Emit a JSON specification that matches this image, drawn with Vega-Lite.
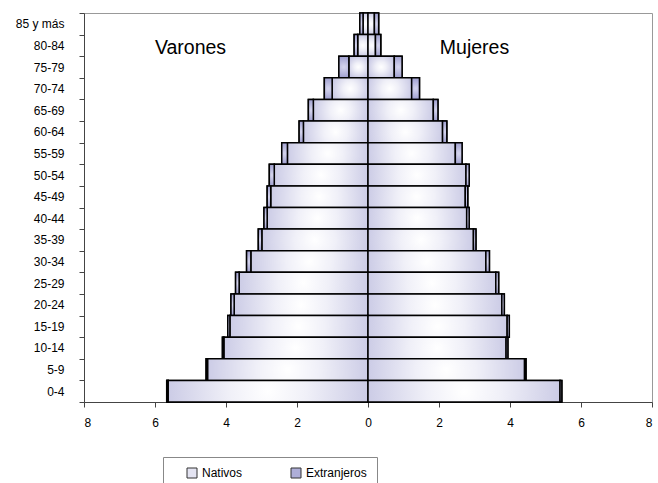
{
  "$schema": "https://vega.github.io/schema/vega-lite/v6.json",
  "autosize": "none",
  "width": 568,
  "height": 389,
  "padding": {"left": 84, "top": 13, "right": 6, "bottom": 81},
  "background": "white",
  "config": {
    "font": "Liberation Sans",
    "view": {"stroke": "#999999", "strokeWidth": 1},
    "axis": {"labelFont": "Liberation Sans", "labelFontSize": 12, "labelColor": "#000000", "domainColor": "#444444", "tickColor": "#444444", "grid": false, "title": null}
  },
  "datasets": {
    "piramide": [
      {"edad": "85 y más", "sexo": "Varones", "tipo": "Nativos", "valor": -0.14},
      {"edad": "85 y más", "sexo": "Varones", "tipo": "Extranjeros", "valor": -0.09},
      {"edad": "85 y más", "sexo": "Mujeres", "tipo": "Nativos", "valor": 0.18},
      {"edad": "85 y más", "sexo": "Mujeres", "tipo": "Extranjeros", "valor": 0.12},
      {"edad": "80-84", "sexo": "Varones", "tipo": "Nativos", "valor": -0.29},
      {"edad": "80-84", "sexo": "Varones", "tipo": "Extranjeros", "valor": -0.10},
      {"edad": "80-84", "sexo": "Mujeres", "tipo": "Nativos", "valor": 0.21},
      {"edad": "80-84", "sexo": "Mujeres", "tipo": "Extranjeros", "valor": 0.15},
      {"edad": "75-79", "sexo": "Varones", "tipo": "Nativos", "valor": -0.54},
      {"edad": "75-79", "sexo": "Varones", "tipo": "Extranjeros", "valor": -0.28},
      {"edad": "75-79", "sexo": "Mujeres", "tipo": "Nativos", "valor": 0.74},
      {"edad": "75-79", "sexo": "Mujeres", "tipo": "Extranjeros", "valor": 0.22},
      {"edad": "70-74", "sexo": "Varones", "tipo": "Nativos", "valor": -1.01},
      {"edad": "70-74", "sexo": "Varones", "tipo": "Extranjeros", "valor": -0.22},
      {"edad": "70-74", "sexo": "Mujeres", "tipo": "Nativos", "valor": 1.23},
      {"edad": "70-74", "sexo": "Mujeres", "tipo": "Extranjeros", "valor": 0.22},
      {"edad": "65-69", "sexo": "Varones", "tipo": "Nativos", "valor": -1.54},
      {"edad": "65-69", "sexo": "Varones", "tipo": "Extranjeros", "valor": -0.14},
      {"edad": "65-69", "sexo": "Mujeres", "tipo": "Nativos", "valor": 1.84},
      {"edad": "65-69", "sexo": "Mujeres", "tipo": "Extranjeros", "valor": 0.13},
      {"edad": "60-64", "sexo": "Varones", "tipo": "Nativos", "valor": -1.82},
      {"edad": "60-64", "sexo": "Varones", "tipo": "Extranjeros", "valor": -0.12},
      {"edad": "60-64", "sexo": "Mujeres", "tipo": "Nativos", "valor": 2.10},
      {"edad": "60-64", "sexo": "Mujeres", "tipo": "Extranjeros", "valor": 0.12},
      {"edad": "55-59", "sexo": "Varones", "tipo": "Nativos", "valor": -2.27},
      {"edad": "55-59", "sexo": "Varones", "tipo": "Extranjeros", "valor": -0.16},
      {"edad": "55-59", "sexo": "Mujeres", "tipo": "Nativos", "valor": 2.46},
      {"edad": "55-59", "sexo": "Mujeres", "tipo": "Extranjeros", "valor": 0.19},
      {"edad": "50-54", "sexo": "Varones", "tipo": "Nativos", "valor": -2.64},
      {"edad": "50-54", "sexo": "Varones", "tipo": "Extranjeros", "valor": -0.14},
      {"edad": "50-54", "sexo": "Mujeres", "tipo": "Nativos", "valor": 2.76},
      {"edad": "50-54", "sexo": "Mujeres", "tipo": "Extranjeros", "valor": 0.09},
      {"edad": "45-49", "sexo": "Varones", "tipo": "Nativos", "valor": -2.74},
      {"edad": "45-49", "sexo": "Varones", "tipo": "Extranjeros", "valor": -0.10},
      {"edad": "45-49", "sexo": "Mujeres", "tipo": "Nativos", "valor": 2.74},
      {"edad": "45-49", "sexo": "Mujeres", "tipo": "Extranjeros", "valor": 0.07},
      {"edad": "40-44", "sexo": "Varones", "tipo": "Nativos", "valor": -2.84},
      {"edad": "40-44", "sexo": "Varones", "tipo": "Extranjeros", "valor": -0.09},
      {"edad": "40-44", "sexo": "Mujeres", "tipo": "Nativos", "valor": 2.78},
      {"edad": "40-44", "sexo": "Mujeres", "tipo": "Extranjeros", "valor": 0.07},
      {"edad": "35-39", "sexo": "Varones", "tipo": "Nativos", "valor": -2.99},
      {"edad": "35-39", "sexo": "Varones", "tipo": "Extranjeros", "valor": -0.10},
      {"edad": "35-39", "sexo": "Mujeres", "tipo": "Nativos", "valor": 2.97},
      {"edad": "35-39", "sexo": "Mujeres", "tipo": "Extranjeros", "valor": 0.07},
      {"edad": "30-34", "sexo": "Varones", "tipo": "Nativos", "valor": -3.30},
      {"edad": "30-34", "sexo": "Varones", "tipo": "Extranjeros", "valor": -0.12},
      {"edad": "30-34", "sexo": "Mujeres", "tipo": "Nativos", "valor": 3.32},
      {"edad": "30-34", "sexo": "Mujeres", "tipo": "Extranjeros", "valor": 0.10},
      {"edad": "25-29", "sexo": "Varones", "tipo": "Nativos", "valor": -3.63},
      {"edad": "25-29", "sexo": "Varones", "tipo": "Extranjeros", "valor": -0.10},
      {"edad": "25-29", "sexo": "Mujeres", "tipo": "Nativos", "valor": 3.60},
      {"edad": "25-29", "sexo": "Mujeres", "tipo": "Extranjeros", "valor": 0.08},
      {"edad": "20-24", "sexo": "Varones", "tipo": "Nativos", "valor": -3.77},
      {"edad": "20-24", "sexo": "Varones", "tipo": "Extranjeros", "valor": -0.09},
      {"edad": "20-24", "sexo": "Mujeres", "tipo": "Nativos", "valor": 3.77},
      {"edad": "20-24", "sexo": "Mujeres", "tipo": "Extranjeros", "valor": 0.07},
      {"edad": "15-19", "sexo": "Varones", "tipo": "Nativos", "valor": -3.89},
      {"edad": "15-19", "sexo": "Varones", "tipo": "Extranjeros", "valor": -0.06},
      {"edad": "15-19", "sexo": "Mujeres", "tipo": "Nativos", "valor": 3.92},
      {"edad": "15-19", "sexo": "Mujeres", "tipo": "Extranjeros", "valor": 0.06},
      {"edad": "10-14", "sexo": "Varones", "tipo": "Nativos", "valor": -4.06},
      {"edad": "10-14", "sexo": "Varones", "tipo": "Extranjeros", "valor": -0.04},
      {"edad": "10-14", "sexo": "Mujeres", "tipo": "Nativos", "valor": 3.89},
      {"edad": "10-14", "sexo": "Mujeres", "tipo": "Extranjeros", "valor": 0.05},
      {"edad": "5-9", "sexo": "Varones", "tipo": "Nativos", "valor": -4.52},
      {"edad": "5-9", "sexo": "Varones", "tipo": "Extranjeros", "valor": -0.04},
      {"edad": "5-9", "sexo": "Mujeres", "tipo": "Nativos", "valor": 4.41},
      {"edad": "5-9", "sexo": "Mujeres", "tipo": "Extranjeros", "valor": 0.04},
      {"edad": "0-4", "sexo": "Varones", "tipo": "Nativos", "valor": -5.63},
      {"edad": "0-4", "sexo": "Varones", "tipo": "Extranjeros", "valor": -0.04},
      {"edad": "0-4", "sexo": "Mujeres", "tipo": "Nativos", "valor": 5.41},
      {"edad": "0-4", "sexo": "Mujeres", "tipo": "Extranjeros", "valor": 0.05}
    ],
    "rotulos": [
      {"texto": "Varones", "x": -5.0, "edad": "80-84"},
      {"texto": "Mujeres", "x": 3.0, "edad": "80-84"}
    ]
  },
  "layer": [
    {
      "data": {"name": "piramide"},
      "mark": {"type": "bar", "stroke": "#000000", "strokeWidth": 1.5},
      "encoding": {
        "y": {
          "field": "edad", "type": "nominal",
          "sort": ["85 y más", "80-84", "75-79", "70-74", "65-69", "60-64", "55-59", "50-54", "45-49", "40-44", "35-39", "30-34", "25-29", "20-24", "15-19", "10-14", "5-9", "0-4"],
          "scale": {"paddingInner": 0, "paddingOuter": 0},
          "axis": {"tickBand": "extent", "tickSize": 5, "labelPadding": 15, "domainColor": "#444444"}
        },
        "x": {
          "field": "valor", "type": "quantitative", "stack": "zero",
          "scale": {"domain": [-8, 8], "nice": false},
          "axis": {"values": [-8, -6, -4, -2, 0, 2, 4, 6, 8], "labelExpr": "abs(datum.value)", "tickSize": 5, "labelPadding": 10, "domainColor": "#444444"}
        },
        "order": {"field": "tipo", "sort": "descending"},
        "fill": {
          "field": "tipo", "type": "nominal",
          "scale": {"domain": ["Nativos", "Extranjeros"], "range": ["#e4e4f2", "#aeaed8"]},
          "legend": {
            "orient": "none", "legendX": 79, "legendY": 444, "direction": "horizontal",
            "title": null, "strokeColor": "#888888", "fillColor": "#ffffff", "padding": 10,
            "symbolType": "square", "symbolSize": 100, "symbolStrokeColor": "#333333", "symbolStrokeWidth": 1,
            "symbolOffset": 13, "labelOffset": 4, "columnPadding": 34,
            "labelFont": "Liberation Sans", "labelFontSize": 12, "labelColor": "#000000"
          }
        }
      }
    },
    {
      "data": {"name": "piramide"},
      "mark": {"type": "bar", "stroke": "#000000", "strokeWidth": 1.5},
      "encoding": {
        "y": {"field": "edad", "type": "nominal", "sort": ["85 y más", "80-84", "75-79", "70-74", "65-69", "60-64", "55-59", "50-54", "45-49", "40-44", "35-39", "30-34", "25-29", "20-24", "15-19", "10-14", "5-9", "0-4"]},
        "x": {"field": "valor", "type": "quantitative", "stack": "zero"},
        "order": {"field": "tipo", "sort": "descending"},
        "fill": {
          "condition": {
            "test": "datum.tipo === 'Nativos'",
            "value": {"gradient": "radial", "x1": 0.5, "y1": 0.5, "r1": 0, "x2": 0.5, "y2": 0.5, "r2": 0.55,
              "stops": [{"offset": 0, "color": "#ffffff"}, {"offset": 0.35, "color": "#f0f0f8"}, {"offset": 1, "color": "#c6c6e3"}]}
          },
          "value": {"gradient": "radial", "x1": 0.5, "y1": 0.5, "r1": 0, "x2": 0.5, "y2": 0.5, "r2": 0.55,
            "stops": [{"offset": 0, "color": "#d6d6ee"}, {"offset": 1, "color": "#9a9acc"}]}
        }
      }
    },
    {
      "data": {"name": "rotulos"},
      "mark": {"type": "text", "font": "Liberation Sans", "fontSize": 19.5, "color": "#000000", "align": "center", "baseline": "middle", "dy": 3},
      "encoding": {
        "x": {"field": "x", "type": "quantitative"},
        "y": {"field": "edad", "type": "nominal", "sort": ["85 y más", "80-84", "75-79", "70-74", "65-69", "60-64", "55-59", "50-54", "45-49", "40-44", "35-39", "30-34", "25-29", "20-24", "15-19", "10-14", "5-9", "0-4"]},
        "text": {"field": "texto"}
      }
    }
  ]
}
